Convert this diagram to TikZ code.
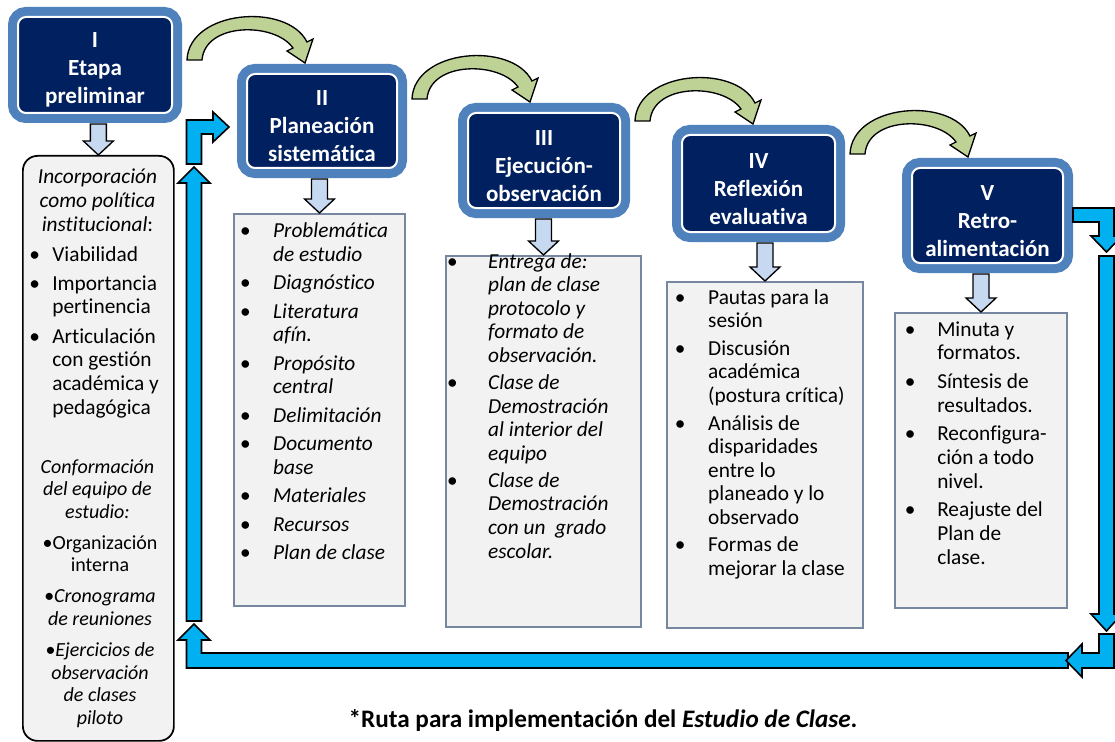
\documentclass[tikz,border=0pt]{standalone}
\usepackage{fontspec}
\setmainfont{Carlito}[Ligatures=NoCommon]
\usepackage{array}
\usetikzlibrary{calc}
\definecolor{navy}{RGB}{0,32,96}
\definecolor{frameblue}{RGB}{79,129,189}
\definecolor{boxfill}{RGB}{242,242,242}
\definecolor{boxedge}{RGB}{120,135,160}
\definecolor{lightarrow}{RGB}{198,217,241}
\definecolor{greenarc}{RGB}{190,210,150}
\definecolor{cyanarrow}{RGB}{0,176,240}
\newcommand\hdrfont{\fontsize{17.3}{21}\selectfont\bfseries}
\newcommand\bodyfont{\fontsize{16}{17.7}\selectfont}
\newcommand\smallfont{\fontsize{15}{16.9}\selectfont}
\newcommand\hstrut{\rule{0pt}{19pt}}
\newcommand\greenshape{(0,0) .. controls (2,-50) and (100,-58) .. (120,-18) -- (126,-21) -- (118,3) -- (100,-9) -- (106,-12) .. controls (88,-38) and (18,-38) .. (15,0) -- cycle}
\begin{document}
\begin{tikzpicture}[x=0.75pt,y=-0.75pt,
  hdr/.style={draw=white, line width=1.5pt, fill=navy, rounded corners=6pt, text=white, font=\hdrfont, align=center, inner sep=0pt, preaction={draw=frameblue, line width=15pt}},
  cbox/.style={draw=boxedge, line width=1.5pt, fill=boxfill, inner sep=0pt, anchor=north west},
  ltxt/.style={anchor=base west, inner sep=0pt, font=\bodyfont},
  ctxt/.style={anchor=base, inner sep=0pt},
  lightblk/.style={fill=lightarrow, draw=black, line width=1pt, line join=miter},
  greenblk/.style={fill=greenarc, draw=black, line width=1pt},
  cyanblk/.style={fill=cyanarrow, draw=black, line width=1.2pt, line join=miter}]
\useasboundingbox (0,0) rectangle (1115,742);
\fill[white] (0,0) rectangle (1115,742);

% header boxes
\node[hdr, minimum width=115.5pt, minimum height=72pt] (h1) at (95,65) {\hstrut I\\Etapa\\preliminar};
\node[hdr, minimum width=112.5pt, minimum height=70.5pt] (h2) at (322,121) {\hstrut II\\Planeación\\sistemática};
\node[hdr, minimum width=114pt, minimum height=71.25pt] (h3) at (544,160.5) {\hstrut III\\Ejecución-\\observación};
\node[hdr, minimum width=114.75pt, minimum height=72.75pt] (h4) at (758.5,183.5) {\hstrut IV\\Reflexión\\evaluativa};
\node[hdr, minimum width=113.25pt, minimum height=71.25pt] (h5) at (987.5,215.5) {\hstrut V\\Retro-\\alimentación};

% content boxes
\node[cbox, draw=black, line width=1.3pt, rounded corners=11pt, minimum width=113.25pt, minimum height=438.75pt] (c1) at (22,155) {};
\node[cbox, minimum width=128.25pt, minimum height=294pt] (c2) at (233,213) {};
\node[cbox, minimum width=146.25pt, minimum height=278.25pt] (c3) at (445,255) {};
\node[cbox, minimum width=147pt, minimum height=259.5pt] (c4) at (666,281) {};
\node[cbox, minimum width=129pt, minimum height=221.25pt] (c5) at (894,312) {};

% light down arrows
\foreach \h/\c in {h1/c1,h2/c2,h3/c3,h4/c4,h5/c5}{
  \draw[lightblk] let \p1=(\h.south), \p2=(\c.north) in
    (\x2-6pt,\y1-7.5pt) -- (\x2+6pt,\y1-7.5pt) -- (\x2+6pt,\y2+10.5pt) -- (\x2+11.25pt,\y2+10.5pt)
    -- (\x2,\y2) -- (\x2-11.25pt,\y2+10.5pt) -- (\x2-6pt,\y2+10.5pt) -- cycle;
}

% green curved arrows
\foreach \a/\b [count=\i] in {h1/h2,h2/h3,h3/h4,h4/h5}{
  \coordinate (g\i) at ($(\a.east |- \b.north)+(14,-13)$);
  \begin{scope}[shift={(g\i)}]
    \filldraw[greenblk] \greenshape;
  \end{scope}
}

% cyan feedback loop
\filldraw[cyanblk] (1073,208) -- (1114,208) -- (1114,236) -- (1122,236) -- (1106.5,252) -- (1091,236) -- (1099,236) -- (1099,222) -- (1073,222) -- cycle;
\filldraw[cyanblk] (1099,256) -- (1114,256) -- (1114,614) -- (1122,614) -- (1106.5,631) -- (1091,614) -- (1099,614) -- cycle;
\filldraw[cyanblk] (1068,653) -- (201.5,653) -- (201.5,640) -- (210,640) -- (194,624) -- (178,640) -- (186.5,640) -- (186.5,668) -- (1068,668) -- cycle;
\filldraw[cyanblk] (1099,634) -- (1114,634) -- (1114,668) -- (1082,668) -- (1082,677) -- (1066,660.5) -- (1082,644) -- (1082,653) -- (1099,653) -- cycle;
\filldraw[cyanblk] (186.5,621) -- (186.5,183) -- (178,183) -- (194,167) -- (210,183) -- (201.5,183) -- (201.5,621) -- cycle;
\filldraw[cyanblk] (186.5,164) -- (186.5,120) -- (213,120) -- (213,112) -- (229,127) -- (213,142) -- (213,134) -- (201.5,134) -- (201.5,164) -- cycle;

% texts box I
\node[ctxt, font=\bodyfont\itshape] (t1a) at (97.5,184) {\begin{tabular}[t]{@{}c@{}}Incorporación\\como política\\institucional\textup{:}\end{tabular}};
\node[ltxt] (t1b) at (29,261) {\begin{tabular}[t]{@{}p{17.3pt}@{}l@{}}
\textbullet & Viabilidad\\[4.3pt]
\textbullet & Importancia\\
 & pertinencia\\[4.3pt]
\textbullet & Articulación\\
 & con gestión\\
 & académica y\\
 & pedagógica\end{tabular}};
\node[ctxt, font=\smallfont\itshape] (t1c) at (97.5,473) {\begin{tabular}[t]{@{}c@{}}Conformación\\del equipo de\\estudio:\end{tabular}};
\node[ctxt, font=\smallfont] (t1d) at (100,549) {\begin{tabular}[t]{@{}c@{}}
\textbullet Organización\\interna\\[6.6pt]
\textit{\textbullet Cronograma}\\\textit{de reuniones}\\[6.6pt]
\textit{\textbullet Ejercicios de}\\\textit{observación}\\\textit{de clases}\\\textit{piloto}\end{tabular}};

% texts box II
\node[ltxt, font=\bodyfont\itshape] (t2) at (239.6,238) {\begin{tabular}[t]{@{}p{25pt}@{}l@{}}
\textbullet & Problemática\\
 & de estudio\\[3.6pt]
\textbullet & Diagnóstico\\[3.6pt]
\textbullet & Literatura\\
 & afín.\\[3.6pt]
\textbullet & Propósito\\
 & central\\[3.6pt]
\textbullet & Delimitación\\[3.6pt]
\textbullet & Documento\\
 & base\\[3.6pt]
\textbullet & Materiales\\[3.6pt]
\textbullet & Recursos\\[3.6pt]
\textbullet & Plan de clase\end{tabular}};

% texts box III
\node[ltxt, font=\bodyfont\itshape] (t3) at (446.6,268) {\begin{tabular}[t]{@{}p{31pt}@{}l@{}}
\textbullet & Entrega de:\\
 & plan de clase\\
 & protocolo y\\
 & formato de\\
 & observación.\\[2.6pt]
\textbullet & Clase de\\
 & Demostración\\
 & al interior del\\
 & equipo\\[2.6pt]
\textbullet & Clase de\\
 & Demostración\\
 & con un\ \ grado\\
 & escolar.\end{tabular}};

% texts box IV
\node[ltxt] (t4) at (674.6,304) {\begin{tabular}[t]{@{}p{25pt}@{}l@{}}
\textbullet & Pautas para la\\
 & sesión\\[3pt]
\textbullet & Discusión\\
 & académica\\
 & (postura crítica)\\[3pt]
\textbullet & Análisis de\\
 & disparidades\\
 & entre lo\\
 & planeado y lo\\
 & observado\\[3pt]
\textbullet & Formas de\\
 & mejorar la clase\end{tabular}};

% texts box V
\node[ltxt] (t5) at (904.6,336) {\begin{tabular}[t]{@{}p{24.3pt}@{}l@{}}
\textbullet & Minuta y\\
 & formatos.\\[3.9pt]
\textbullet & Síntesis de\\
 & resultados.\\[3.9pt]
\textbullet & Reconfigura-\\
 & ción a todo\\
 & nivel.\\[3.9pt]
\textbullet & Reajuste del\\
 & Plan de\\
 & clase.\end{tabular}};

% caption
\node[ctxt, font=\fontsize{18.9}{22}\selectfont\bfseries] (cap) at (603,727) {*Ruta para implementación del \textit{Estudio de Clase}.};
\end{tikzpicture}
\end{document}
